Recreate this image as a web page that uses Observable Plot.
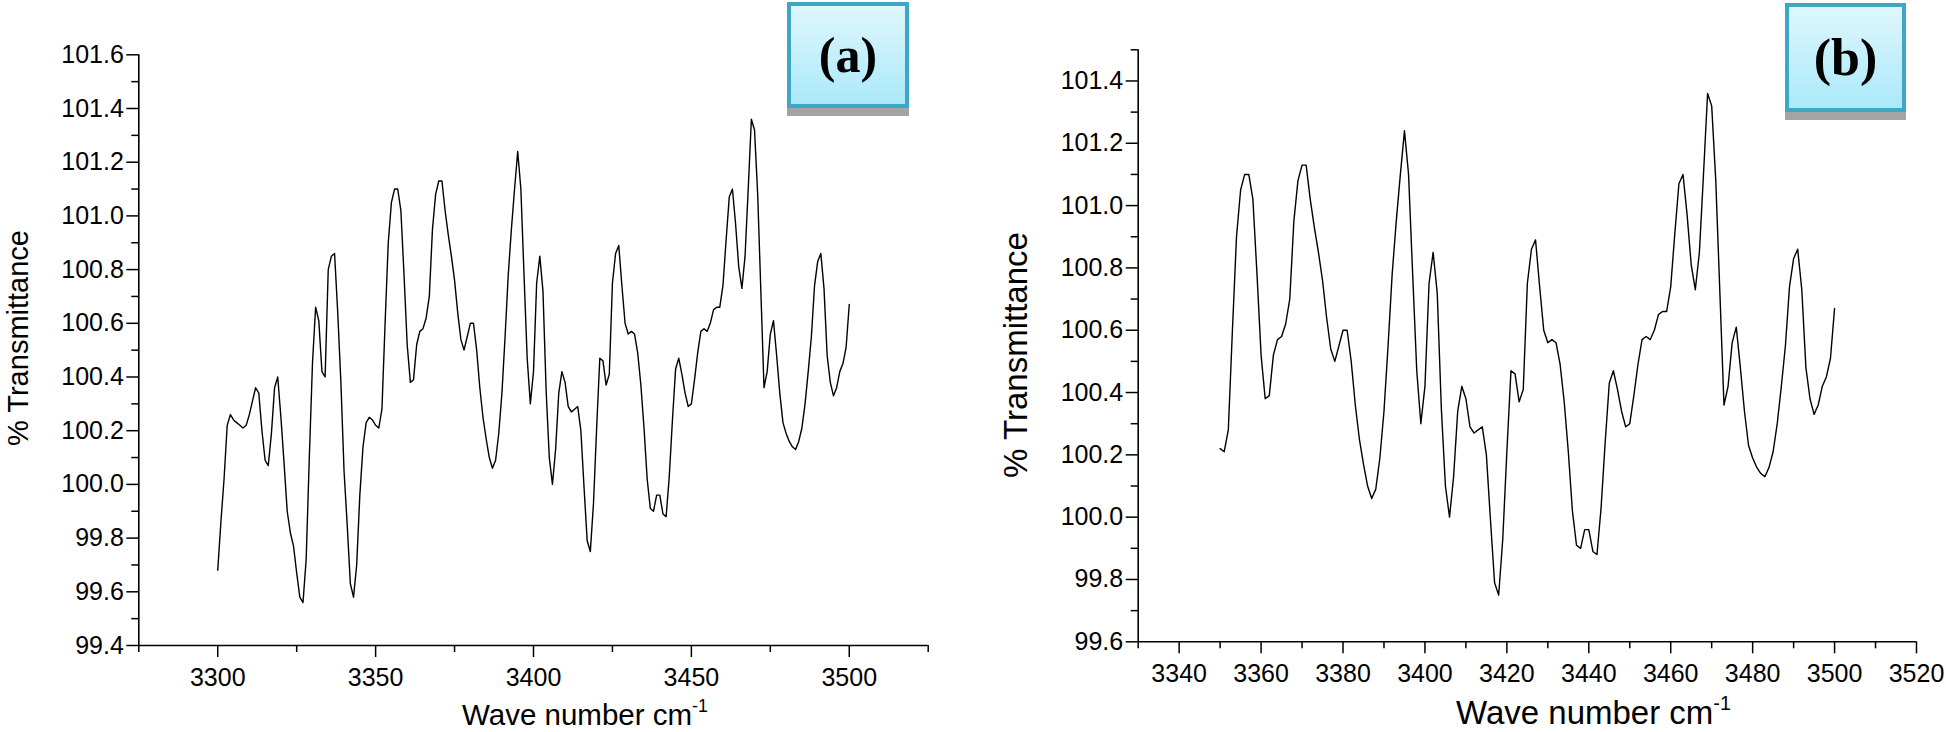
<!DOCTYPE html>
<html>
<head>
<meta charset="utf-8">
<script src="https://cdn.jsdelivr.net/npm/d3@7"></script>
<script src="https://cdn.jsdelivr.net/npm/@observablehq/plot@0.6"></script>
<style>
html, body { margin: 0; padding: 0; background: #fff; }
#root { position: relative; width: 1946px; height: 732px; overflow: hidden; font-family: "Liberation Sans", Arial, sans-serif; color: #000; }
.panel { position: absolute; top: 0; }
.xtitle { position: absolute; white-space: nowrap; line-height: 1; }
.xtitle sup { font-size: 0.6em; position: relative; top: -0.1em; vertical-align: top; line-height: 1; }
.ytitle { position: absolute; white-space: nowrap; line-height: 1; transform: translate(-50%, -50%) rotate(-90deg); }
.badge { position: absolute; box-sizing: border-box; border: 4px solid #3ea7c7;
  background: linear-gradient(#def7fd, #abe9f9);
  box-shadow: 0 8px 0 #a4a4a4;
  font-family: "Liberation Serif", "Times New Roman", serif; font-weight: bold;
  display: flex; align-items: center; justify-content: center; line-height: 1; }
</style>
</head>
<body>
<div id="root"></div>
<script>
// ---- data ----
const wavenumber = [
3300,3301,3302,3303,3304,3305,3306,3307,3308,3309,
3310,3311,3312,3313,3314,3315,3316,3317,3318,3319,
3320,3321,3322,3323,3324,3325,3326,3327,3328,3329,
3330,3331,3332,3333,3334,3335,3336,3337,3338,3339,
3340,3341,3342,3343,3344,3345,3346,3347,3348,3349,
3350,3351,3352,3353,3354,3355,3356,3357,3358,3359,
3360,3361,3362,3363,3364,3365,3366,3367,3368,3369,
3370,3371,3372,3373,3374,3375,3376,3377,3378,3379,
3380,3381,3382,3383,3384,3385,3386,3387,3388,3389,
3390,3391,3392,3393,3394,3395,3396,3397,3398,3399,
3400,3401,3402,3403,3404,3405,3406,3407,3408,3409,
3410,3411,3412,3413,3414,3415,3416,3417,3418,3419,
3420,3421,3422,3423,3424,3425,3426,3427,3428,3429,
3430,3431,3432,3433,3434,3435,3436,3437,3438,3439,
3440,3441,3442,3443,3444,3445,3446,3447,3448,3449,
3450,3451,3452,3453,3454,3455,3456,3457,3458,3459,
3460,3461,3462,3463,3464,3465,3466,3467,3468,3469,
3470,3471,3472,3473,3474,3475,3476,3477,3478,3479,
3480,3481,3482,3483,3484,3485,3486,3487,3488,3489,
3490,3491,3492,3493,3494,3495,3496,3497,3498,3499,
3500];
const transmittance = [
99.68, 99.86, 100.02, 100.22, 100.26, 100.24, 100.23, 100.22, 100.21, 100.22,
100.26, 100.31, 100.36, 100.34, 100.20, 100.09, 100.07, 100.19, 100.36, 100.40,
100.25, 100.08, 99.90, 99.82, 99.77, 99.67, 99.58, 99.56, 99.72, 100.10,
100.45, 100.66, 100.61, 100.42, 100.40, 100.80, 100.85, 100.86, 100.64, 100.38,
100.05, 99.85, 99.63, 99.58, 99.70, 99.96, 100.14, 100.23, 100.25, 100.24,
100.22, 100.21, 100.28, 100.60, 100.90, 101.05, 101.10, 101.10, 101.02, 100.78,
100.52, 100.38, 100.39, 100.52, 100.57, 100.58, 100.62, 100.70, 100.95, 101.08,
101.13, 101.13, 101.02, 100.93, 100.85, 100.76, 100.64, 100.54, 100.50, 100.55,
100.60, 100.60, 100.50, 100.36, 100.25, 100.17, 100.10, 100.06, 100.09, 100.19,
100.34, 100.55, 100.78, 100.95, 101.10, 101.24, 101.10, 100.78, 100.47, 100.30,
100.42, 100.75, 100.85, 100.72, 100.35, 100.10, 100.00, 100.13, 100.34, 100.42,
100.38, 100.29, 100.27, 100.28, 100.29, 100.20, 99.99, 99.79, 99.75, 99.93,
100.21, 100.47, 100.46, 100.37, 100.41, 100.75, 100.86, 100.89, 100.74, 100.60,
100.56, 100.57, 100.56, 100.49, 100.37, 100.21, 100.02, 99.91, 99.90, 99.96,
99.96, 99.89, 99.88, 100.03, 100.24, 100.43, 100.47, 100.41, 100.34, 100.29,
100.30, 100.39, 100.49, 100.57, 100.58, 100.57, 100.60, 100.65, 100.66, 100.66,
100.74, 100.91, 101.07, 101.10, 100.97, 100.81, 100.73, 100.85, 101.10, 101.36,
101.32, 101.08, 100.72, 100.36, 100.42, 100.56, 100.61, 100.48, 100.34, 100.23,
100.19, 100.16, 100.14, 100.13, 100.16, 100.21, 100.30, 100.42, 100.55, 100.74,
100.83, 100.86, 100.73, 100.48, 100.38, 100.33, 100.36, 100.42, 100.45, 100.51,
100.67];

// panel (a)
const xDomainA = [3275, 3525];
const yDomainA = [99.4, 101.6];
const xTicksA = [3300, 3350, 3400, 3450, 3500];
const xMinorA = [3275, 3325, 3375, 3425, 3475, 3525];
const yTicksA = [99.4, 99.6, 99.8, 100.0, 100.2, 100.4, 100.6, 100.8, 101.0, 101.2, 101.4, 101.6];
const yMinorA = [99.5, 99.7, 99.9, 100.1, 100.3, 100.5, 100.7, 100.9, 101.1, 101.3, 101.5];

// panel (b)
const bStart = 3350;
const xDomainB = [3330, 3520];
const yDomainB = [99.6, 101.5];
const xTicksB = [3340, 3360, 3380, 3400, 3420, 3440, 3460, 3480, 3500, 3520];
const xMinorB = [3330, 3350, 3370, 3390, 3410, 3430, 3450, 3470, 3490, 3510];
const yTicksB = [99.6, 99.8, 100.0, 100.2, 100.4, 100.6, 100.8, 101.0, 101.2, 101.4];
const yMinorB = [99.7, 99.9, 100.1, 100.3, 100.5, 100.7, 100.9, 101.1, 101.3, 101.5];

const xTitle = "Wave number cm";
const xTitleSup = "-1";
const yTitle = "% Transmittance";
const labelA = "(a)";
const labelB = "(b)";

const rows = wavenumber.map((w, i) => ({w, t: transmittance[i]}));
const rowsB = rows.filter(d => d.w >= bStart);

const fmt = d3.format(".1f");
const fontStack = "'Liberation Sans', Arial, sans-serif";

function panel(cfg) {
  return Plot.plot({
    width: cfg.width, height: 732,
    marginLeft: cfg.ml, marginRight: cfg.mr, marginTop: cfg.mt, marginBottom: cfg.mb,
    x: {domain: cfg.xDomain},
    y: {domain: cfg.yDomain},
    style: {fontFamily: fontStack, fontSize: cfg.fs + "px", color: "#000", background: "transparent", overflow: "visible"},
    marks: [
      Plot.axisX(cfg.xTicks, {tickSize: 12, tickPadding: cfg.xPad, tickFormat: d => String(d), label: null, strokeWidth: 1.5, fontSize: cfg.fs}),
      Plot.axisX(cfg.xMinor, {tickSize: 7, tickFormat: () => "", label: null, strokeWidth: 1.5}),
      Plot.axisY(cfg.yTicks, {tickSize: 12, tickPadding: 3, tickFormat: fmt, label: null, strokeWidth: 1.5, fontSize: cfg.fs}),
      Plot.axisY(cfg.yMinor, {tickSize: 7, tickFormat: () => "", label: null, strokeWidth: 1.5}),
      Plot.ruleX([cfg.xDomain[0]], {stroke: "#000", strokeWidth: 1.6}),
      Plot.ruleY([cfg.yDomain[0]], {stroke: "#000", strokeWidth: 1.6}),
      Plot.line(cfg.data, {x: "w", y: "t", stroke: "#000", strokeWidth: 1.4})
    ]
  });
}

const root = document.getElementById("root");

const svgA = panel({width: 960, ml: 138.3, mr: 32.3, mt: 54.3, mb: 87, xDomain: xDomainA, yDomain: yDomainA,
  xTicks: xTicksA, xMinor: xMinorA, yTicks: yTicksA, yMinor: yMinorA, data: rows, fs: 25, xPad: 11});
const wrapA = document.createElement("div");
wrapA.className = "panel"; wrapA.style.left = "0px";
wrapA.appendChild(svgA);
root.appendChild(wrapA);

const svgB = panel({width: 986, ml: 177.7, mr: 30, mt: 49.3, mb: 90.7, xDomain: xDomainB, yDomain: yDomainB,
  xTicks: xTicksB, xMinor: xMinorB, yTicks: yTicksB, yMinor: yMinorB, data: rowsB, fs: 25, xPad: 10});
const wrapB = document.createElement("div");
wrapB.className = "panel"; wrapB.style.left = "960px";
wrapB.appendChild(svgB);
root.appendChild(wrapB);

function addXTitle(left, top, size) {
  const d = document.createElement("div");
  d.className = "xtitle";
  d.style.left = left + "px"; d.style.top = top + "px"; d.style.fontSize = size + "px";
  d.appendChild(document.createTextNode(xTitle));
  const s = document.createElement("sup"); s.textContent = xTitleSup;
  d.appendChild(s);
  root.appendChild(d);
}
function addYTitle(cx, cy, size) {
  const d = document.createElement("div");
  d.className = "ytitle";
  d.style.left = cx + "px"; d.style.top = cy + "px"; d.style.fontSize = size + "px";
  d.textContent = yTitle;
  root.appendChild(d);
}
function addBadge(left, top, w, h, text, size) {
  const d = document.createElement("div");
  d.className = "badge";
  d.style.left = left + "px"; d.style.top = top + "px";
  d.style.width = w + "px"; d.style.height = h + "px"; d.style.fontSize = size + "px";
  d.textContent = text;
  root.appendChild(d);
}

addXTitle(462, 700, 29.5);
addXTitle(1456, 696, 33);
addYTitle(17.5, 338, 29);
addYTitle(1015, 354.5, 33);
addBadge(787, 2, 122, 106, labelA, 50);
addBadge(1785, 3, 121, 109, labelB, 52);
</script>
</body>
</html>
